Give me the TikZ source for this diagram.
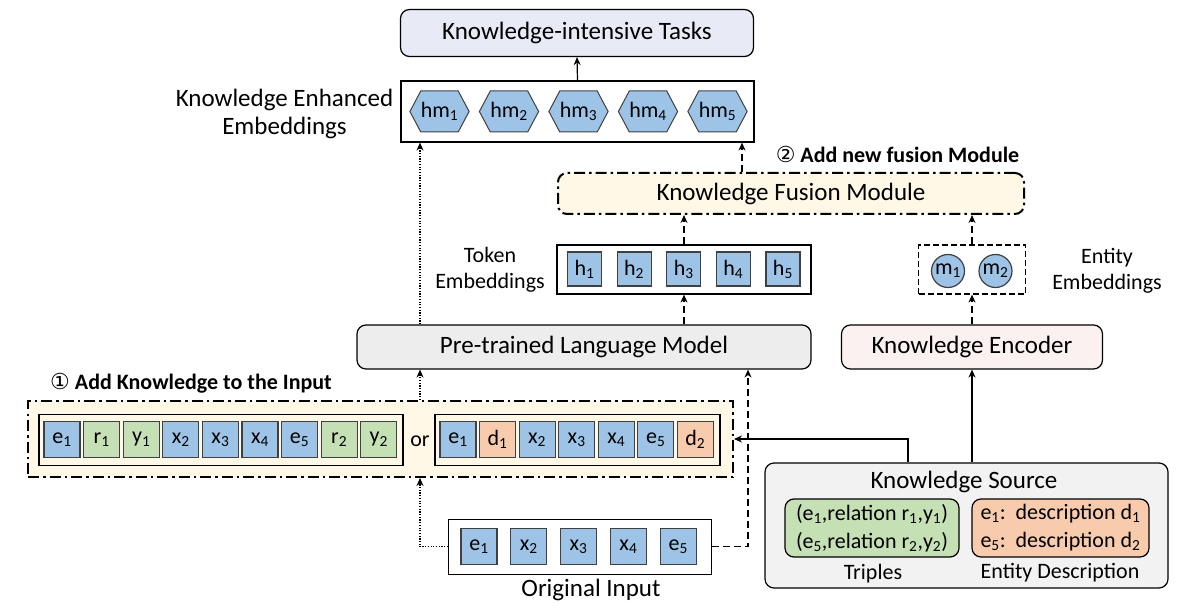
\documentclass[tikz,border=0pt]{standalone}
\usepackage{fontspec}
\setmainfont{Carlito}
\newfontfamily\circfont{DejaVu Sans}
\usepackage{tikz}
\usetikzlibrary{arrows.meta,shapes.symbols}
\definecolor{tokblue}{HTML}{9DC3E6}
\definecolor{relgreen}{HTML}{C5E0B4}
\definecolor{descorange}{HTML}{F8CBAD}
\definecolor{taskfill}{HTML}{E8EAF6}
\definecolor{creamfill}{HTML}{FFF8E6}
\definecolor{plmfill}{HTML}{EDEDED}
\definecolor{encfill}{HTML}{FCF1F1}
\definecolor{srcfill}{HTML}{F2F2F2}
\definecolor{tokline}{HTML}{404040}
\tikzset{
  every node/.style={font=\fontsize{25}{28}\selectfont},
  frame/.style={draw,line width=1.2pt,inner sep=0pt},
  roundbox/.style={frame,rounded corners=9pt},
  dashdot/.style={line width=2pt,dash pattern=on 11pt off 4pt on 2.5pt off 4pt},
  token/.style={draw=tokline,line width=1.2pt,minimum width=36pt,minimum height=36pt,
    inner sep=0pt,font=\fontsize{22}{26}\selectfont},
  hexa/.style={token,line width=1pt,shape=signal,signal to=east and west,signal pointer angle=124,
    minimum width=53pt,minimum height=41pt,fill=tokblue,font=\fontsize{22}{26}\selectfont},
  small/.style={font=\fontsize{22}{26}\selectfont},
  headline/.style={font=\bfseries\fontsize{22}{26}\selectfont},
  arrow/.style={line width=1.2pt,-{Stealth[length=8pt,width=7pt]}},
  dotarrow/.style={arrow,dash pattern=on 1.2pt off 1.5pt},
  dasharrow/.style={arrow,dash pattern=on 7pt off 4pt}
}

\begin{document}
\begin{tikzpicture}[x=1pt,y=-1pt]
  \useasboundingbox (0,0) rectangle (1188,609);
  % output side
  \node[roundbox,fill=taskfill,minimum width=353,minimum height=47] (tasks) at (577,33) {Knowledge-intensive Tasks};
  \node[frame,minimum width=353,minimum height=61] (hmbox) at (577.5,111.5) {};
  \foreach \i in {1,...,5}
    \node[hexa] (hm\i) at ({439.5+69.5*(\i-1)},111.5) {hm\textsubscript{\i}};
  \node[align=center] (kelab) at (284.5,114) {Knowledge Enhanced\\Embeddings};
  \node[roundbox,dashdot,fill=creamfill,minimum width=466,minimum height=41] (fusion) at (791,193.5) {Knowledge Fusion Module};
  \node[headline] (fuselab) at (897.5,154) {{\circfont\mdseries ②} Add new fusion Module};
  % embeddings
  \node[frame,minimum width=254,minimum height=49] (hbox) at (684,269.5) {};
  \foreach \i in {1,...,5}
    \node[token,fill=tokblue,minimum width=34,minimum height=34] (h\i) at ({584.5+49.6*(\i-1)},269) {h\textsubscript{\i}};
  \node[small,align=center] (toklab) at (490,270) {Token\\Embeddings};
  \node[frame,dash pattern=on 6pt off 3pt,minimum width=107,minimum height=49] (mbox) at (972,269.5) {};
  \foreach \i/\x in {1/948,2/995.5}
    \node[token,circle,fill=tokblue,minimum size=33] (m\i) at (\x,271) {m\textsubscript{\i}};
  \node[small,align=center] (entlab) at (1107,271) {Entity\\Embeddings};
  % models
  \node[roundbox,fill=plmfill,minimum width=454,minimum height=44] (plm) at (584,347) {Pre-trained Language Model};
  \node[roundbox,fill=encfill,minimum width=261,minimum height=44] (enc) at (972,347) {Knowledge Encoder};
  % knowledge added to input
  \node[headline] (addlab) at (191,383) {{\circfont\mdseries ①} Add Knowledge to the Input};
  \node[frame,dashdot,fill=creamfill,minimum width=705,minimum height=76] (inbox) at (380.5,439) {};
  \node[frame,minimum width=364,minimum height=51] (seqa) at (221,439.7) {};
  \node[frame,minimum width=285,minimum height=51] (seqb) at (577.5,439.7) {};
  \foreach \t/\n/\c [count=\i] in {e/1/tokblue,r/1/relgreen,y/1/relgreen,x/2/tokblue,x/3/tokblue,
      x/4/tokblue,e/5/tokblue,r/2/relgreen,y/2/relgreen}
    \node[token,fill=\c] (a\i) at ({62+39.6*(\i-1)},439.5) {\t\textsubscript{\n}};
  \foreach \t/\n/\c [count=\i] in {e/1/tokblue,d/1/descorange,x/2/tokblue,x/3/tokblue,
      x/4/tokblue,e/5/tokblue,d/2/descorange}
    \node[token,fill=\c] (b\i) at ({458+39.55*(\i-1)},439.5) {\t\textsubscript{\n}};
  \node[small] (orlab) at (420,441) {or};
  % original input
  \node[frame,minimum width=263,minimum height=55] (orig) at (580,546.7) {};
  \foreach \t/\n [count=\i] in {e/1,x/2,x/3,x/4,e/5}
    \node[token,fill=tokblue] (o\i) at ({479+49.8*(\i-1)},546.5) {\t\textsubscript{\n}};
  \node (origlab) at (591,590) {Original Input};
  % knowledge source
  \node[roundbox,fill=srcfill,minimum width=403,minimum height=125] (src) at (966.5,525.5) {};
  \node (srclab) at (964,482) {Knowledge Source};
  \node[roundbox,fill=relgreen,minimum width=174,minimum height=58,align=center,font=\fontsize{22}{28}\selectfont] (triples) at (872,528)
    {(e\textsubscript{1},relation r\textsubscript{1},y\textsubscript{1})\\(e\textsubscript{5},relation r\textsubscript{2},y\textsubscript{2})};
  \node[roundbox,fill=descorange,minimum width=177,minimum height=58,align=center,font=\fontsize{22}{28}\selectfont] (descs) at (1060.5,528)
    {e\textsubscript{1}:\ \ description d\textsubscript{1}\\e\textsubscript{5}:\ \ description d\textsubscript{2}};
  \node[small] (triplab) at (873,574) {Triples};
  \node[small] (desclab) at (1060,573) {Entity Description};
  % connectors
  \coordinate (lx) at (420,0);
  \coordinate (rx) at (748,0);
  \coordinate (fx) at (742,0);
  \coordinate (kx) at (908,0);
  \draw[arrow] (hmbox.north) -- (tasks.south);
  \draw[dotarrow] (plm.north -| lx) -- (hmbox.south -| lx);
  \draw[dasharrow] (fusion.north -| fx) -- (hmbox.south -| fx);
  \draw[dasharrow] (hbox.north) -- (hbox.north |- fusion.south);
  \draw[dasharrow] (mbox.north) -- (mbox.north |- fusion.south);
  \draw[dasharrow] (hbox.south |- plm.north) -- (hbox.south);
  \draw[dasharrow] (mbox.south |- enc.north) -- (mbox.south);
  \draw[arrow] (enc.south |- src.north) -- (enc.south);
  \draw[arrow] (src.north -| kx) |- (inbox.east);
  \draw[dotarrow] (inbox.north -| lx) -- (plm.south -| lx);
  \draw[dotarrow] (orig.west) -| (inbox.south -| lx);
  \draw[dasharrow] (orig.east) -| (plm.south -| rx);
\end{tikzpicture}
\end{document}
